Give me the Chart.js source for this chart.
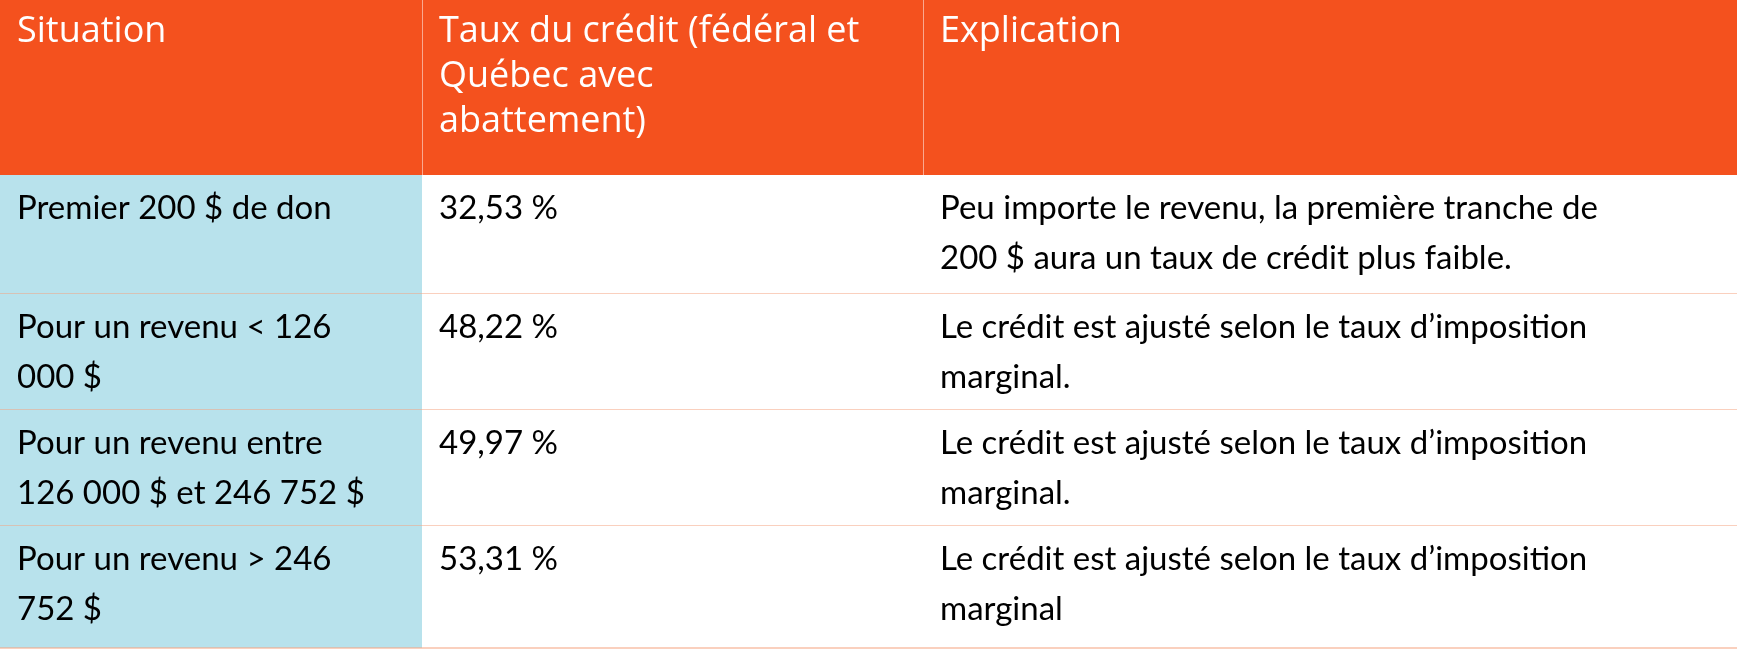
<!DOCTYPE html>
<html><head><meta charset="utf-8">
<script src="https://cdn.jsdelivr.net/npm/chart.js@4"></script>
<style>html,body{margin:0;padding:0;background:#fff}#wrap{width:1737px;height:655px}</style>
</head><body><div id="wrap"><canvas id="c"></canvas></div>
<script>
// Table data
const headers = [['Situation'], ['Taux du crédit (fédéral et', 'Québec avec', 'abattement)'], ['Explication']];
const situations = [
  ['Premier 200 $ de don'],
  ['Pour un revenu < 126', '000 $'],
  ['Pour un revenu entre', '126 000 $ et 246 752 $'],
  ['Pour un revenu > 246', '752 $']
];
const rates = ['32,53 %', '48,22 %', '49,97 %', '53,31 %'];
const explanations = [
  ['Peu importe le revenu, la première tranche de', '200 $ aura un taux de crédit plus faible.'],
  ['Le crédit est ajusté selon le taux d’imposition', 'marginal.'],
  ['Le crédit est ajusté selon le taux d’imposition', 'marginal.'],
  ['Le crédit est ajusté selon le taux d’imposition', 'marginal']
];
// column / row edges in table units
const colEdges = [0, 422, 923, 1737];
const rowEdges = [0, 175, 294, 410, 526, 648];

const ORANGE = '#F4511E', BLUE = '#B8E2EC', LINE = '#F6A27F';

const tablePlugin = {
  id: 'table',
  afterDraw(chart) {
    const { ctx, scales: { x, y } } = chart;
    const px = (v) => x.getPixelForValue(v), py = (v) => y.getPixelForValue(v);
    const rows = [headers].concat(situations.map((s, i) => [s, [rates[i]], explanations[i]]));
    ctx.save();
    rows.forEach((row, r) => {
      const top = py(rowEdges[r]), bot = py(rowEdges[r + 1]);
      row.forEach((lines, c) => {
        const l = px(colEdges[c]), rr = px(colEdges[c + 1]);
        let bg = r === 0 ? ORANGE : (c === 0 ? BLUE : '#ffffff');
        ctx.fillStyle = bg;
        ctx.fillRect(l, top, rr - l, bot - top);
        ctx.fillStyle = r === 0 ? '#ffffff' : '#000000';
        ctx.textBaseline = 'top';
        ctx.font = r === 0 ? '36px "Open Sans", sans-serif' : '33px Lato, sans-serif';
        const lh = r === 0 ? 45 : 50;
        const off = r === 0 ? 14 : 17;
        lines.forEach((t, k) => ctx.fillText(t, l + 17, top + off + k * lh));
      });
      if (r === 0) {
        ctx.strokeStyle = 'rgba(255,255,255,0.5)';
        ctx.lineWidth = 1;
        for (let c = 1; c < colEdges.length - 1; c++) {
          ctx.beginPath(); ctx.moveTo(px(colEdges[c]) + 0.5, top); ctx.lineTo(px(colEdges[c]) + 0.5, bot); ctx.stroke();
        }
      }
      if (r > 0) {
        ctx.strokeStyle = LINE; ctx.lineWidth = 1.2;
        ctx.beginPath(); ctx.moveTo(px(0), bot); ctx.lineTo(px(colEdges[3]), bot); ctx.stroke();
      }
    });
    ctx.restore();
  }
};

new Chart(document.getElementById('c'), {
  type: 'scatter',
  data: { datasets: [{ data: [] }] },
  options: {
    responsive: true,
    maintainAspectRatio: false,
    animation: false,
    layout: { padding: 0 },
    plugins: { legend: { display: false }, tooltip: { enabled: false } },
    scales: {
      x: { type: 'linear', min: 0, max: 1737, display: false },
      y: { type: 'linear', min: 0, max: 655, reverse: true, display: false }
    }
  },
  plugins: [tablePlugin]
});
</script></body></html>
